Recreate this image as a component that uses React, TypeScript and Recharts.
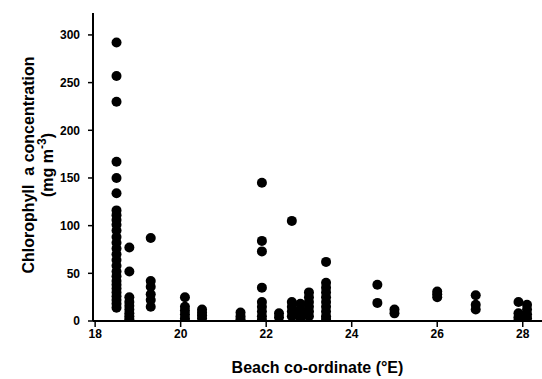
import { ScatterChart, Scatter, XAxis, YAxis, Label } from 'recharts';

// beach co-ordinates (°E) and chlorophyll a readings (mg m-3) at each
const beachCoords = [18.5, 18.8, 19.3, 20.1, 20.5, 21.4, 21.9, 22.3, 22.6, 22.8, 23.0, 23.4, 24.6, 25.0, 26.0, 26.9, 27.9, 28.1];
const readings: number[][] = [
  [292, 257, 230, 167, 150, 134, 116, 111, 106, 101, 95, 88, 82, 76, 70, 64, 58, 52, 47, 42, 38, 34, 30, 26, 22, 18, 14],
  [77, 52, 25, 20, 16, 12, 8, 5, 2, 0],
  [87, 42, 36, 28, 22, 15],
  [25, 15, 11, 7, 3, 0],
  [12, 9, 6, 3],
  [9, 5, 2, 0],
  [145, 84, 73, 35, 20, 15, 10, 5, 1],
  [8, 4],
  [105, 20, 15, 10, 5],
  [18, 12, 7, 2],
  [30, 25, 20, 15, 10, 5],
  [62, 40, 35, 30, 25, 20, 15, 10, 5, 2],
  [38, 19],
  [12, 8],
  [31, 28, 25],
  [27, 17, 12],
  [20, 8, 4, 1],
  [17, 12, 7, 3],
];
const xTicks = [18, 20, 22, 24, 26, 28];
const yTicks = [0, 50, 100, 150, 200, 250, 300];

const points = beachCoords.flatMap((x, i) => readings[i].map((y) => ({ x, y })));

const font = 'Liberation Sans, Arial, sans-serif';
const tickStyle = { fontFamily: font, fontSize: 12, fontWeight: 700, fill: '#000' };

const Dot = (props: any) => <circle cx={props.cx} cy={props.cy} r={5} fill="#000" />;

const YTitle = () => (
  <g transform="translate(0,165) rotate(-90)" fontFamily={font} fontWeight={700} fontSize={16} fill="#000">
    <text x={0} y={34} textAnchor="middle" style={{ whiteSpace: 'pre' }}>
      Chlorophyll  a concentration
    </text>
    <text x={0} y={53} textAnchor="middle">
      (mg m<tspan dy={-7} fontSize={12}>-3</tspan>
      <tspan dy={7}>)</tspan>
    </text>
  </g>
);

export default function App() {
  return (
    <div style={{ position: 'absolute', left: 0, top: 0, background: '#fff' }}>
      <ScatterChart width={542} height={379} margin={{ top: 13, right: 0, bottom: 0, left: 0 }}>
        <XAxis
          type="number"
          dataKey="x"
          domain={[17.95, 28.45]}
          ticks={xTicks}
          allowDataOverflow
          height={58}
          tickSize={6}
          tickMargin={2}
          tick={tickStyle}
          axisLine={{ stroke: '#000', strokeWidth: 2 }}
          tickLine={{ stroke: '#000', strokeWidth: 1.5 }}
        >
          <Label
            value="Beach co-ordinate (°E)"
            position="insideBottom"
            offset={6}
            style={{ fontFamily: font, fontSize: 16, fontWeight: 700, fill: '#000' }}
          />
        </XAxis>
        <YAxis
          type="number"
          dataKey="y"
          domain={[0, 323]}
          ticks={yTicks}
          allowDataOverflow
          width={93}
          tickSize={5}
          tickMargin={8}
          tick={tickStyle}
          axisLine={{ stroke: '#000', strokeWidth: 2 }}
          tickLine={{ stroke: '#000', strokeWidth: 1.5 }}
        />
        <Scatter data={points} fill="#000" shape={<Dot />} isAnimationActive={false} />
        <YTitle />
      </ScatterChart>
    </div>
  );
}
